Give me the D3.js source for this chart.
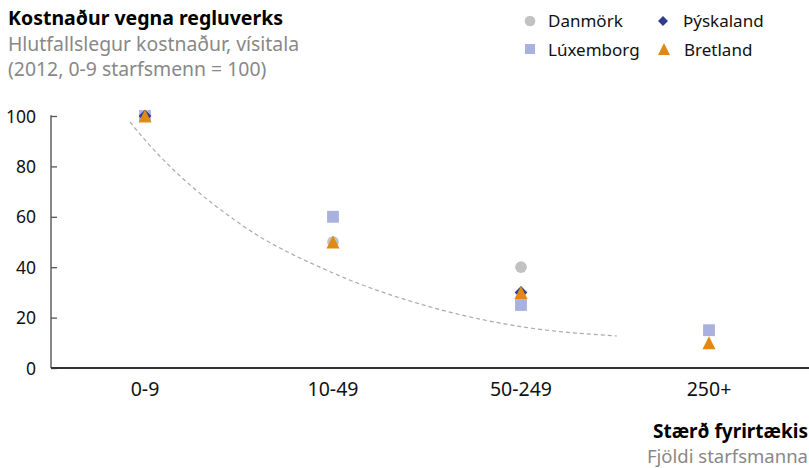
<!DOCTYPE html>
<html><head><meta charset="utf-8">
<script src="https://cdn.jsdelivr.net/npm/d3@7"></script>
<style>body{margin:0;background:#fff}svg{display:block}text{font-family:"Noto Sans",sans-serif}</style>
</head><body><svg id="c" width="809" height="468"></svg>
<script>
const categories = ["0-9","10-49","50-249","250+"];
const danmork = [100, 50, 40, null];
const thyskaland = [100, null, 30, null];
const luxemborg = [100, 60, 25, 15];
const bretland = [100, 50, 30, 10];
const yTicks = [0,20,40,60,80,100];
// dashed trend line: position in category units, value
const trendX = [-0.08, 0, 0.5, 1, 1.5, 2, 2.51];
const trendY = [97.6, 90.5, 57.5, 37.7, 24.6, 16.4, 12.7];

const svg = d3.select("#c");
const x = d3.scaleBand().domain(categories).range([51, 803]);
const xc = d3.scaleLinear().domain([0, 3]).range([x(categories[0]) + x.bandwidth()/2, x(categories[3]) + x.bandwidth()/2]);
const y = d3.scaleLinear().domain([0, 100]).range([368, 116]);

// titles
svg.append("text").attr("x",8).attr("y",25).attr("font-size",19.5).attr("font-weight","bold").attr("fill","#000").text("Kostnaður vegna regluverks");
svg.append("text").attr("x",8).attr("y",51).attr("font-size",19.4).attr("fill","#888").text("Hlutfallslegur kostnaður, vísitala");
svg.append("text").attr("x",8).attr("y",76).attr("font-size",19.4).attr("fill","#888").text("(2012, 0-9 starfsmenn = 100)");

// y axis
const ya = svg.append("g").attr("transform","translate(51,0)").call(d3.axisLeft(y).tickValues(yTicks).tickSize(-6).tickPadding(15));
ya.select(".domain").attr("stroke","#555").attr("stroke-width",1.4).attr("d","M0,"+(y(100)-0.7)+"V"+y(0));
ya.selectAll(".tick line").attr("stroke","#555").attr("stroke-width",1.3);
ya.selectAll(".tick text").attr("font-size",17.5).attr("fill","#111").attr("font-family","Noto Sans").attr("dy","0.35em");

// x axis
const xa = svg.append("g").attr("transform","translate(0,368)").call(d3.axisBottom(x).tickSize(0).tickPadding(14));
xa.select(".domain").attr("stroke","#333").attr("stroke-width",2).attr("d","M51,0H809");
xa.selectAll(".tick text").attr("font-size",19.5).attr("fill","#111").attr("font-family","Noto Sans");

// trend
svg.append("path").datum(trendX.map((t,i)=>[t,trendY[i]]))
  .attr("fill","none").attr("stroke","#aaa").attr("stroke-width",1.2).attr("stroke-dasharray","4,3")
  .attr("d", d3.line().x(d=>xc(d[0])).y(d=>y(d[1])).curve(d3.curveMonotoneX));

// custom symbols
const tri = {draw(ctx, size){ const w = Math.sqrt(size); ctx.moveTo(0,-w/2); ctx.lineTo(w/2,w/2); ctx.lineTo(-w/2,w/2); ctx.closePath(); }};
const diam = {draw(ctx, size){ const h = Math.sqrt(size)/2; ctx.moveTo(0,-h); ctx.lineTo(h,0); ctx.lineTo(0,h); ctx.lineTo(-h,0); ctx.closePath(); }};

const series = [
  {name:"Danmörk", vals:danmork, sym:d3.symbolCircle, size:108, lsize:90, color:"#c2c2c2"},
  {name:"Lúxemborg", vals:luxemborg, sym:d3.symbolSquare, size:140, lsize:100, color:"#a9b1de"},
  {name:"Þýskaland", vals:thyskaland, sym:diam, size:162, lsize:100, color:"#2f3d8c"},
  {name:"Bretland", vals:bretland, sym:tri, size:169, lsize:144, color:"#e08a14"}
];
series.forEach(s=>{
  svg.append("g").selectAll("path").data(s.vals.map((v,i)=>({v,c:categories[i]})).filter(d=>d.v!=null))
    .join("path")
    .attr("transform", d=>`translate(${x(d.c)+x.bandwidth()/2},${y(d.v)})`)
    .attr("d", d3.symbol().type(s.sym).size(s.size)())
    .attr("fill", s.color);
});

// legend
const legend = [
  {s:series[0], x:530, y:21, ty:27}, {s:series[2], x:663, y:21, ty:27},
  {s:series[1], x:530, y:49, ty:56}, {s:series[3], x:664, y:49, ty:56}
];
legend.forEach(l=>{
  svg.append("path").attr("transform",`translate(${l.x},${l.y})`)
    .attr("d", d3.symbol().type(l.s.sym).size(l.s.lsize)()).attr("fill", l.s.color);
  svg.append("text").attr("x", l.x + (l.x < 600 ? 18 : 20)).attr("y", l.ty).attr("font-size",17).attr("fill","#111").text(l.s.name);
});

// axis title
svg.append("text").attr("x",808).attr("y",438).attr("text-anchor","end").attr("font-size",19).attr("font-weight","bold").attr("fill","#000").text("Stærð fyrirtækis");
svg.append("text").attr("x",808).attr("y",463).attr("text-anchor","end").attr("font-size",18.5).attr("fill","#888").text("Fjöldi starfsmanna");
</script></body></html>
